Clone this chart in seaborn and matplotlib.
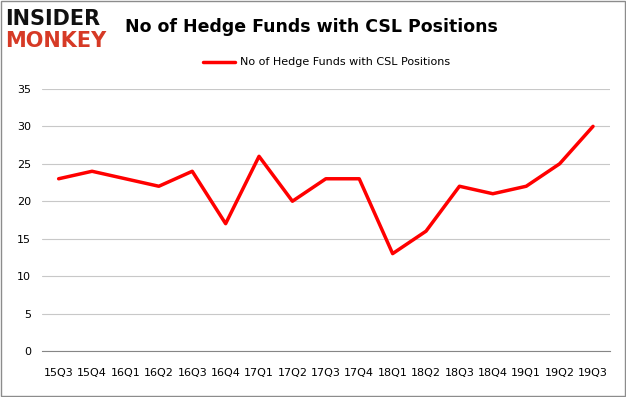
import numpy as np
import pandas as pd
import matplotlib
matplotlib.use("Agg")
import matplotlib.pyplot as plt
import seaborn as sns

# Данные графика
quarters = ["15Q3", "15Q4", "16Q1", "16Q2", "16Q3", "16Q4", "17Q1", "17Q2", "17Q3",
            "17Q4", "18Q1", "18Q2", "18Q3", "18Q4", "19Q1", "19Q2", "19Q3"]
hedge_funds = [23, 24, 23, 22, 24, 17, 26, 20, 23, 23, 13, 16, 22, 21, 22, 25, 30]
series_name = "No of Hedge Funds with CSL Positions"

df = pd.DataFrame({"pos": np.arange(len(quarters)), "funds": hedge_funds,
                   "series": series_name})

sns.set_style("white")
plt.rcParams["font.family"] = ["DejaVu Sans"]
plt.rcParams["text.color"] = "black"

fig = plt.figure(figsize=(6.26, 3.97), dpi=100)
ax = fig.add_axes([0.067, 0.116, 0.907, 0.66])

sns.lineplot(data=df, x="pos", y="funds", hue="series", palette=["#ff0000"],
             linewidth=2.5, ax=ax, legend=False)

ax.set_xlim(-0.5, len(quarters) - 0.5)
ax.set_ylim(0, 35)
ax.set_yticks(range(0, 36, 5))
ax.yaxis.grid(True, color="#c8c8c8", linewidth=0.8)
ax.set_axisbelow(True)

# Подписи кварталов между делениями (как в Excel)
ax.set_xticks(np.arange(-0.5, len(quarters), 1.0))
ax.set_xticklabels([])
ax.set_xticks(np.arange(len(quarters)), minor=True)
ax.set_xticklabels(quarters, minor=True, fontsize=8)
ax.tick_params(axis="x", which="major", length=5, color="#868686", direction="out")
ax.tick_params(axis="x", which="minor", length=0, pad=12, labelcolor="black")
ax.tick_params(axis="y", length=0, labelsize=8, pad=8, labelcolor="black")
ax.set_xlabel("")
ax.set_ylabel("")

for side in ["top", "right", "left"]:
    ax.spines[side].set_visible(False)
ax.spines["bottom"].set_color("#868686")

# Заголовок и легенда
fig.text(0.497, 0.932, series_name, ha="center", va="center",
         fontsize=12.5, fontweight="bold", color="black")
fig.lines.append(plt.Line2D([0.324, 0.376], [0.843, 0.843], color="#ff0000",
                            linewidth=2.5, transform=fig.transFigure))
fig.text(0.383, 0.843, series_name, ha="left", va="center", fontsize=8,
         color="black")

# Логотип
fig.text(0.008, 0.953, "INSIDER", ha="left", va="center", fontsize=15,
         fontweight="heavy", color="#111111")
fig.text(0.008, 0.897, "MONKEY", ha="left", va="center", fontsize=15,
         fontweight="heavy", color="#d63a26")

# Рамка вокруг рисунка
fig.patches.append(plt.Rectangle((0.001, 0.002), 0.997, 0.995, fill=False,
                                 edgecolor="#8c8c8c", linewidth=1,
                                 transform=fig.transFigure))

fig.savefig("out.png", dpi=100)
plt.close(fig)
